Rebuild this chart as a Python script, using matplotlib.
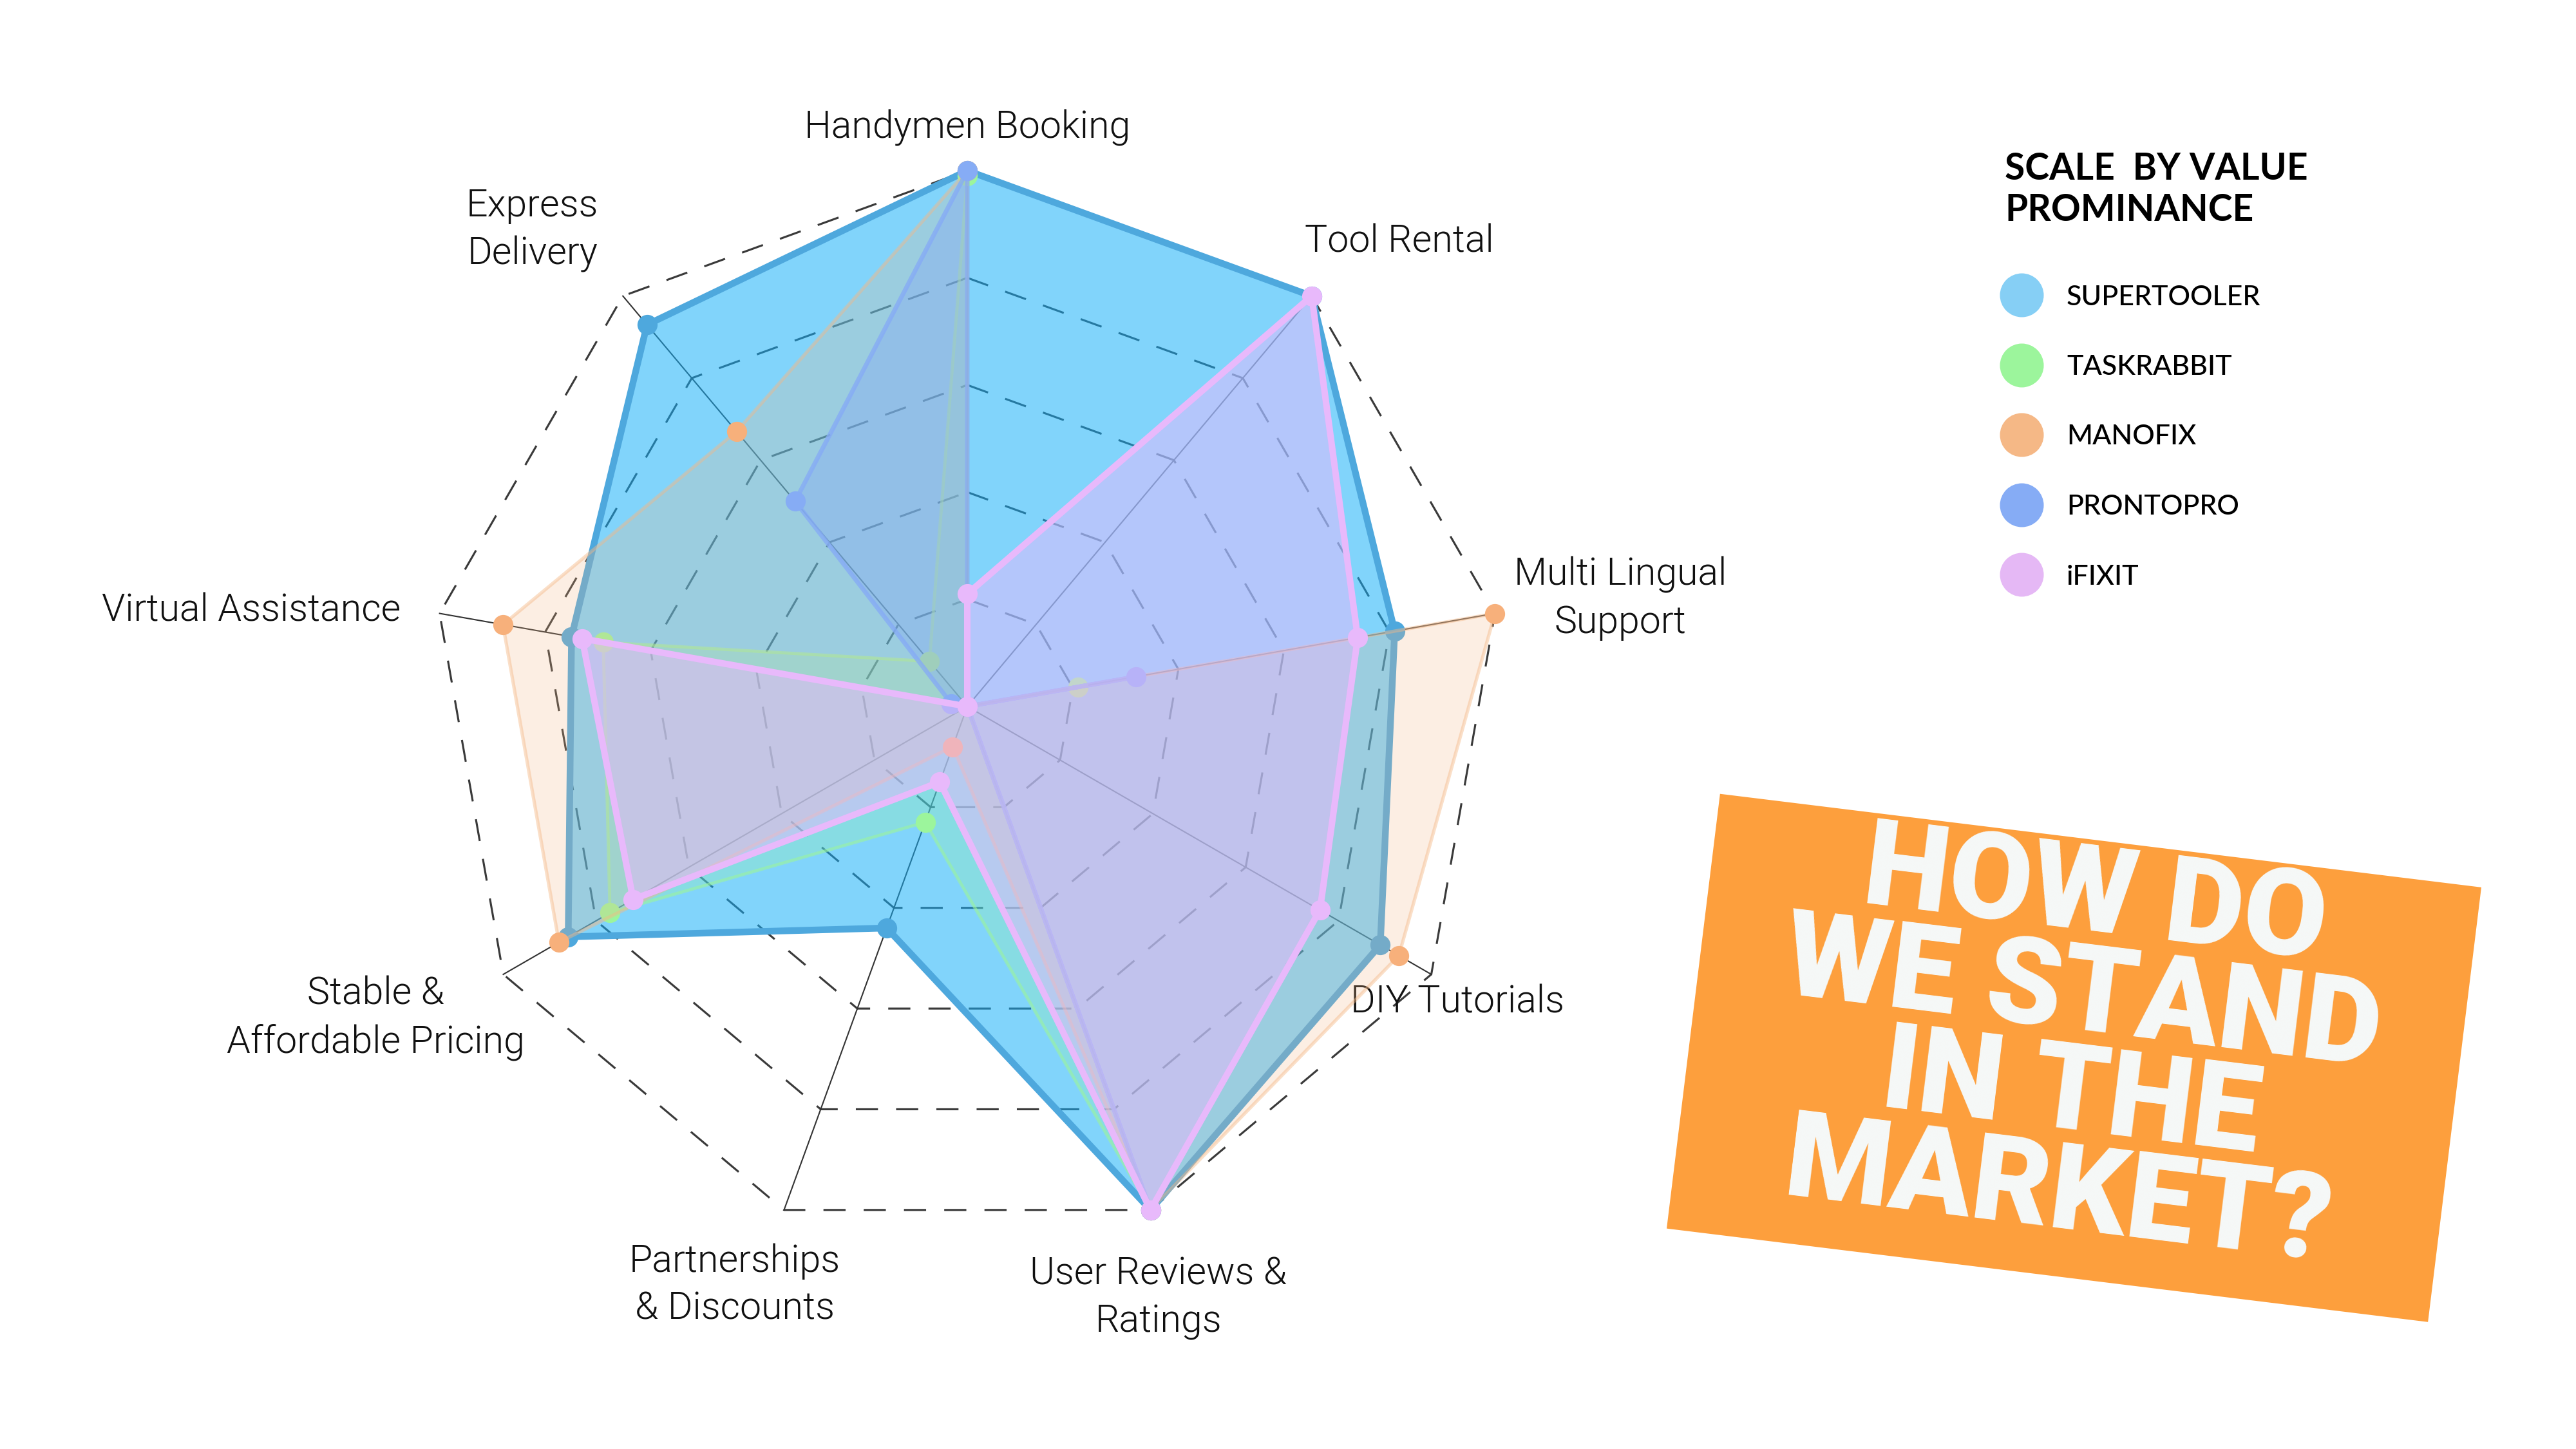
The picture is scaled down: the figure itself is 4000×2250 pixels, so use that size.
import numpy as np
import matplotlib
matplotlib.use("Agg")
import matplotlib.pyplot as plt
from matplotlib.patches import Rectangle

# ---------------- data ----------------
categories = ["Handymen Booking", "Tool Rental", "Multi Lingual\nSupport", "DIY Tutorials",
              "User Reviews &\nRatings", "Partnerships\n& Discounts",
              "Stable &\nAffordable Pricing", "Virtual Assistance", "Express\nDelivery"]
series_names = ["SUPERTOOLER", "TASKRABBIT", "MANOFIX", "PRONTOPRO", "iFIXIT"]
supertooler = [1.00, 1.00, 0.81, 0.89, 1.00, 0.44, 0.86, 0.75, 0.93]
taskrabbit = [0.99, 0.00, 0.21, 0.00, 1.00, 0.23, 0.77, 0.69, 0.11]
manofix = [1.00, 0.00, 1.00, 0.93, 1.00, 0.08, 0.88, 0.88, 0.67]
prontopro = [1.00, 0.00, 0.32, 0.00, 1.00, 0.00, 0.00, 0.03, 0.50]
ifixit = [0.21, 1.00, 0.74, 0.76, 1.00, 0.15, 0.72, 0.73, 0.00]
grid_levels = [0.2, 0.4, 0.6, 0.8, 1.0]
legend_title = "SCALE  BY VALUE\nPROMINANCE"
headline = "HOW DO\nWE STAND\nIN THE\nMARKET?"

series_values = [supertooler, taskrabbit, manofix, prontopro, ifixit]

# ---------------- styles ----------------
fill_colors = ['#16B0F9', '#9CF59C', '#F5B886', '#86ACF5', '#E8B9FB']
fill_alphas = [0.54, 0.25, 0.23, 0.40, 0.50]
line_colors = ['#4EA8DD', '#9CF59C', '#F5B886', '#86ACF5', '#E8B9FB']
line_alphas = [1.0, 0.6, 0.45, 0.8, 1.0]
line_widths = [3.0, 1.4, 1.5, 2.0, 2.9]
marker_colors = ['#4EA8DD', '#9CF59C', '#F7B07B', '#86ACF5', '#E8B9FB']
legend_colors = ['#86CFF5', '#9CF59C', '#F5B886', '#86ACF5', '#E5B8F5']

label_screen_angle = [90, 47.1, 9.4, -31.1, -72.1, -111.9, -152.2, 172.4, 132.4]
label_radius = [1.08, 1.185, 1.235, 1.068, 1.16, 1.164, 1.248, 1.348, 1.204]

W, H = 4000, 2250
fig = plt.figure(figsize=(16, 9), dpi=250)
fig.patch.set_facecolor('white')

cx, cy, R = 1502, 1097, 832
ax = fig.add_axes([(cx - R) / W, (H - cy - R) / H, 2 * R / W, 2 * R / H], projection='polar')
ax.set_theta_offset(np.pi / 2)
ax.set_theta_direction(-1)
ax.set_ylim(0, 1)
ax.axis('off')

n = len(categories)
theta = np.linspace(0, 2 * np.pi, n, endpoint=False)
theta_c = np.append(theta, theta[0])

# grid rings
for lv in grid_levels:
    ax.plot(theta_c, [lv] * (n + 1), color='#3a3a3a', lw=0.9, dashes=(11, 9),
            zorder=1, clip_on=False)
# spokes
for t in theta:
    ax.plot([t, t], [0, 1], color='#333333', lw=0.6, zorder=1, clip_on=False)

# series
for i, vals in enumerate(series_values):
    vc = np.append(vals, vals[0])
    z = 2 + i
    ax.fill(theta_c, vc, color=fill_colors[i], alpha=fill_alphas[i], lw=0, zorder=z)
    ax.plot(theta_c, vc, color=line_colors[i], alpha=line_alphas[i], lw=line_widths[i],
            solid_joinstyle='round', zorder=z + 0.1, clip_on=False)
    ax.plot(theta, vals, 'o', color=marker_colors[i], ms=9, mew=0, zorder=z + 0.2,
            clip_on=False)

# category labels
for lab, ang, rr in zip(categories, label_screen_angle, label_radius):
    ax.text(np.deg2rad(90 - ang), rr, lab, ha='center', va='center', fontsize=17,
            family='Roboto', fontweight=300, color='#111111', linespacing=1.4)

# overlay axes in pixel coordinates
ov = fig.add_axes([0, 0, 1, 1])
ov.set_xlim(0, W)
ov.set_ylim(H, 0)
ov.axis('off')

# legend
ov.text(3113, 236, legend_title, ha='left', va='top', fontsize=16.4, family='Lato',
        fontweight='bold', color='black', linespacing=1.25)
for i, (nm, col) in enumerate(zip(series_names, legend_colors)):
    y = 458 + i * 108.5
    ov.scatter([3139], [y], s=384, color=col, linewidths=0)
    ov.text(3209, y, nm, ha='left', va='center_baseline', fontsize=12.4, family='Lato',
            fontweight='medium', color='black')

# headline box
bw, bh = 1191, 680
bcx, bcy = 3220.5, 1642.75
ov.add_patch(Rectangle((bcx - bw / 2, bcy - bh / 2), bw, bh, angle=7,
                       rotation_point='center', facecolor='#FD9F3D', edgecolor='none'))
ov.text(3225, 1625, headline, ha='center', va='center', multialignment='center',
        rotation=-7, rotation_mode='anchor', fontsize=54, family='Roboto',
        fontweight='black', color='#F5F9F9', linespacing=0.83)

fig.savefig('out.png', dpi=250)
